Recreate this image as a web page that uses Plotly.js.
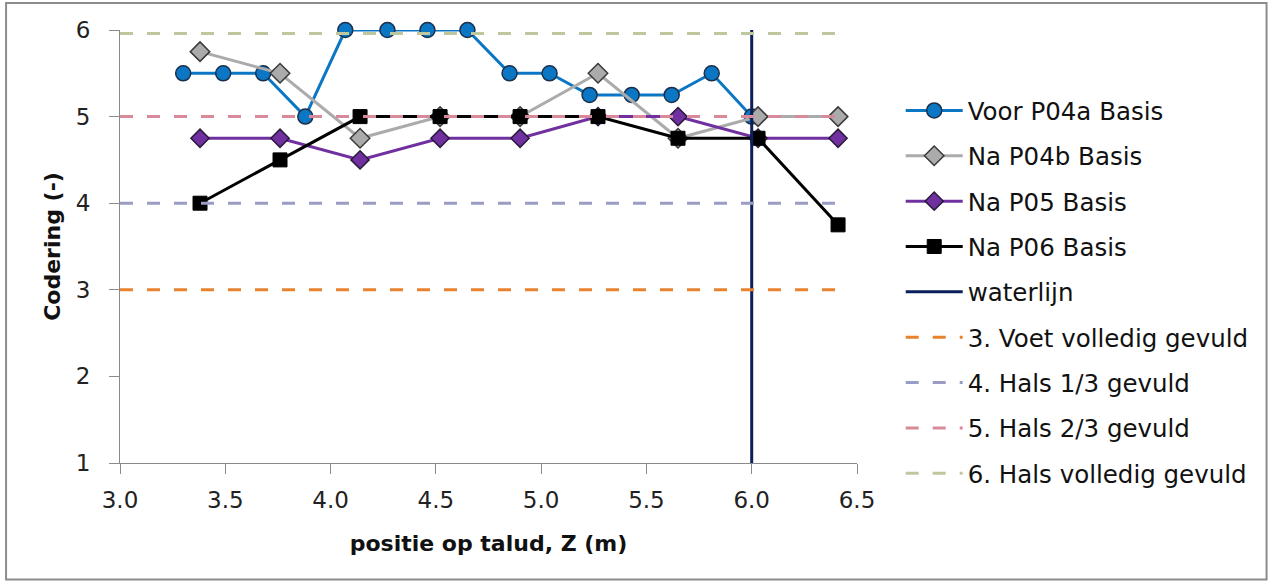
<!DOCTYPE html>
<html>
<head>
<meta charset="utf-8">
<script src="https://cdn.plot.ly/plotly-3.0.1.min.js"></script>
<style>
html,body{margin:0;padding:0;background:#fff;}
#chart{width:1271px;height:584px;}
</style>
</head>
<body>
<div id="chart"></div>
<script>
// Z positions (m)
const zA = [3.30, 3.49, 3.68, 3.88, 4.07, 4.27, 4.46, 4.65, 4.85, 5.04, 5.23, 5.43, 5.62, 5.81, 6.00];
const zB = [3.38, 3.76, 4.14, 4.52, 4.90, 5.27, 5.65, 6.03, 6.41];
// series values
const voorP04a = [5.5, 5.5, 5.5, 5.0, 6.0, 6.0, 6.0, 6.0, 5.5, 5.5, 5.25, 5.25, 5.25, 5.5, 5.0];
const naP04b   = [5.75, 5.5, 4.75, 5.0, 5.0, 5.5, 4.75, 5.0, 5.0];
const naP05    = [4.75, 4.75, 4.5, 4.75, 4.75, 5.0, 5.0, 4.75, 4.75];
const naP06    = [4.0, 4.5, 5.0, 5.0, 5.0, 5.0, 4.75, 4.75, 3.75];
// waterline
const waterX = [6.0, 6.0];
const waterY = [1, 6];
// reference levels
const refX = [3.0, 6.46];
const refLevels = [3, 4, 5, 5.96];
const refNames = ['3. Voet volledig gevuld', '4. Hals 1/3 gevuld', '5. Hals 2/3 gevuld', '6. Hals volledig gevuld'];
const refColors = ['#E8822E', '#9A9CC4', '#D88A9A', '#BFC79E'];
const xTicks = [3.0, 3.5, 4.0, 4.5, 5.0, 5.5, 6.0, 6.5];
const yTicks = [1, 2, 3, 4, 5, 6];

const FONT = 'DejaVu Sans, sans-serif';
const traces = [
  {x: zA, y: voorP04a, name: 'Voor P04a Basis', mode: 'lines+markers',
   line: {color: '#0B77C4', width: 3},
   marker: {symbol: 'circle', size: 15, color: '#0B77C4', line: {color: '#1B2F4A', width: 1.5}}},
  {x: zB, y: naP04b, name: 'Na P04b Basis', mode: 'lines+markers',
   line: {color: '#ABABAB', width: 3},
   marker: {symbol: 'diamond', size: 15, color: '#ABABAB', line: {color: '#3A3A3A', width: 1.5}}},
  {x: zB, y: naP05, name: 'Na P05 Basis', mode: 'lines+markers',
   line: {color: '#7030A0', width: 3},
   marker: {symbol: 'diamond', size: 14, color: '#7030A0', line: {color: '#2A1A3A', width: 1.5}}},
  {x: zB, y: naP06, name: 'Na P06 Basis', mode: 'lines+markers',
   line: {color: '#000000', width: 3},
   marker: {symbol: 'square', size: 14, color: '#000000', line: {color: '#000000', width: 1}}},
  {x: waterX, y: waterY, name: 'waterlijn', mode: 'lines',
   line: {color: '#0B1F5C', width: 3}}
];
refLevels.forEach((lv, i) => {
  traces.push({x: refX, y: [lv, lv], name: refNames[i], mode: 'lines',
    line: {color: refColors[i], width: 3, dash: '13px,14px'}});
});
traces.forEach((t, i) => { t.legendgroup = 'g' + i; t.showlegend = true; t.cliponaxis = false; });

const layout = {
  width: 1271, height: 584,
  margin: {l: 120, r: 413.7, t: 30, b: 120.7, pad: 0, autoexpand: false},
  paper_bgcolor: '#ffffff', plot_bgcolor: '#ffffff',
  font: {family: FONT, size: 24, color: '#222'},
  showlegend: true,
  legend: {x: 1.0593, xanchor: 'left', y: 0.866, yanchor: 'top',
    traceorder: 'grouped', tracegroupgap: 10.5, itemwidth: 57,
    font: {family: FONT, size: 24.5, color: '#111'}, bgcolor: 'rgba(0,0,0,0)'},
  xaxis: {range: [3.0, 6.5], tickvals: xTicks, ticktext: xTicks.map(v => v.toFixed(1)),
    showgrid: false, zeroline: false, showline: true, linecolor: '#8A8A8A', linewidth: 1,
    ticks: 'outside', ticklen: 10, tickcolor: '#8A8A8A', ticklabelstandoff: 6,
    tickfont: {family: FONT, size: 23, color: '#222'},
    title: {text: '<b>positie op talud, Z (m)</b>', font: {family: FONT, size: 22, color: '#111'}, standoff: 24}},
  yaxis: {range: [1, 6], tickvals: yTicks,
    showgrid: false, zeroline: false, showline: true, linecolor: '#8A8A8A', linewidth: 1,
    ticks: 'outside', ticklen: 10, tickcolor: '#8A8A8A', ticklabelstandoff: 14,
    tickfont: {family: FONT, size: 23, color: '#222'},
    title: {text: '<b>Codering (-)</b>', font: {family: FONT, size: 22, color: '#111'}, standoff: 9}},
  shapes: [{type: 'rect', xref: 'paper', yref: 'paper',
    x0: -0.1546, x1: 1.5557, y0: -0.2693, y1: 1.0623,
    line: {color: '#8C8C8C', width: 2}, fillcolor: 'rgba(0,0,0,0)', layer: 'below'}]
};

Plotly.newPlot('chart', traces, layout, {displayModeBar: false, staticPlot: true});
</script>
</body>
</html>
